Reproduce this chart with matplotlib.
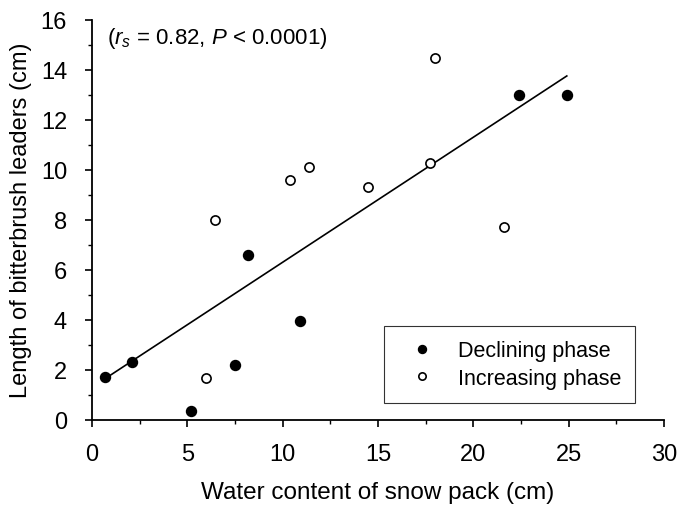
import matplotlib
matplotlib.use("Agg")
import matplotlib.pyplot as plt
from matplotlib.ticker import MultipleLocator

plt.rcParams['font.family'] = ['Liberation Sans', 'DejaVu Sans']
plt.rcParams['mathtext.fontset'] = 'custom'
plt.rcParams['mathtext.rm'] = 'Liberation Sans'
plt.rcParams['mathtext.it'] = 'Liberation Sans:italic'

# declining phase (filled)
dec_x = [0.7, 2.1, 5.2, 7.5, 8.2, 10.9, 22.4, 24.9]
dec_y = [1.7, 2.3, 0.35, 2.2, 6.6, 3.95, 13.0, 13.0]

# increasing phase (open)
inc_x = [6.0, 6.45, 10.4, 11.4, 14.5, 17.7, 18.0, 21.6]
inc_y = [1.65, 8.0, 9.6, 10.1, 9.3, 10.25, 14.45, 7.7]

# regression line ends
fit_x = [0.7, 24.9]
fit_y = [1.65, 13.75]

fig = plt.figure(figsize=(6.81, 5.10), dpi=100)
ax = fig.add_axes([0.1351, 0.175, 0.84, 0.7844])

ax.plot(fit_x, fit_y, color='black', lw=1.2, zorder=2)
ax.plot(dec_x, dec_y, 'o', ms=7.2, mfc='black', mec='black', mew=1.0,
        label='Declining phase', zorder=3, clip_on=False)
ax.plot(inc_x, inc_y, 'o', ms=6.6, mfc='white', mec='black', mew=1.2,
        label='Increasing phase', zorder=3, clip_on=False)

ax.set_xlim(0, 30)
ax.set_ylim(0, 16)
ax.xaxis.set_major_locator(MultipleLocator(5))
ax.xaxis.set_minor_locator(MultipleLocator(2.5))
ax.yaxis.set_major_locator(MultipleLocator(2))
ax.yaxis.set_minor_locator(MultipleLocator(1))
ax.tick_params(which='major', direction='out', length=5, width=1.2, labelsize=17)
ax.tick_params(which='minor', direction='out', length=3, width=1.0)
ax.tick_params(axis='x', which='major', pad=12)
ax.tick_params(axis='y', which='major', pad=13)

for s in ['top', 'right']:
    ax.spines[s].set_visible(False)
for s in ['left', 'bottom']:
    ax.spines[s].set_linewidth(1.3)

ax.set_xlabel('Water content of snow pack (cm)', fontsize=17.5, labelpad=11)
ax.set_ylabel('Length of bitterbrush leaders (cm)', fontsize=17, labelpad=6)

ax.text(0.027, 0.955, r'($r_s$ = 0.82, $P$ < 0.0001)', transform=ax.transAxes,
        fontsize=16, va='center', ha='left')

leg = ax.legend(loc='upper left', bbox_to_anchor=(0.51, 0.234), borderaxespad=0,
                fontsize=15.5, frameon=True, fancybox=False, edgecolor='black',
                borderpad=0.65, handletextpad=0.5, labelspacing=0.3,
                markerscale=0.8, handlelength=2.3)
leg.get_frame().set_linewidth(0.8)

fig.savefig('out.png', dpi=100)
